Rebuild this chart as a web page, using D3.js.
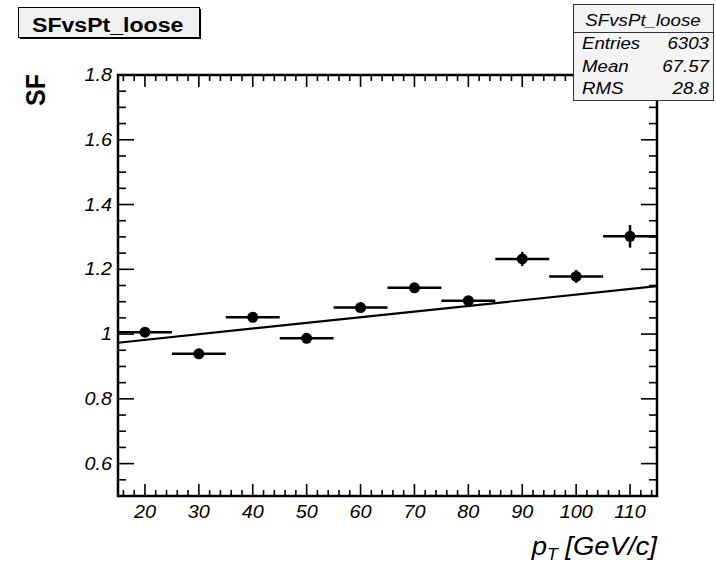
<!DOCTYPE html>
<html><head><meta charset="utf-8">
<script src="https://cdn.jsdelivr.net/npm/d3@7"></script>
<style>body{margin:0;background:#fff}svg{display:block}text{font-family:"Liberation Sans",Arial,Helvetica,sans-serif}</style>
</head><body>
<script>
// ---- data ----
const binCenters = [20, 30, 40, 50, 60, 70, 80, 90, 100, 110];
const binHalfWidth = 5;
const sfValues = [1.006, 0.939, 1.052, 0.987, 1.082, 1.143, 1.103, 1.232, 1.178, 1.302];
const sfErrors = [0.010, 0.008, 0.010, 0.008, 0.010, 0.012, 0.012, 0.022, 0.020, 0.035];
const fitParams = [0.947, 0.00175]; // p0 + p1*x
const xTicks = [20, 30, 40, 50, 60, 70, 80, 90, 100, 110];
const yTicks = [0.6, 0.8, 1.0, 1.2, 1.4, 1.6, 1.8];
const yTickLabels = ["0.6", "0.8", "1", "1.2", "1.4", "1.6", "1.8"];
const statsLabels = ["Entries", "Mean", "RMS"];
const statsValues = ["6303", "67.57", "28.8"];
const histTitle = "SFvsPt_loose";

const W = 716, H = 566;
const svg = d3.select("body").append("svg").attr("width", W).attr("height", H);
const L = 118, R = 657, T = 75, B = 496;
const x = d3.scaleLinear().domain([15, 115]).range([L, R]);
const y = d3.scaleLinear().domain([0.5, 1.8]).range([B, T]);
const SX = 1.1;

function txt(g, px, py, s, size, opts = {}) {
  return g.append("text")
    .attr("transform", `translate(${px},${py}) scale(${SX},1)`)
    .attr("font-size", size)
    .attr("font-style", opts.italic ? "italic" : "normal")
    .attr("font-weight", opts.bold ? "bold" : "normal")
    .attr("text-anchor", opts.anchor || "start")
    .attr("fill", "#000")
    .text(s);
}

// ---- axes ticks ----
const ax = svg.append("g").attr("stroke", "#000").attr("stroke-width", 1.6);
const xMinor = d3.range(16, 115, 2);
xMinor.forEach(v => {
  const major = xTicks.includes(v);
  const len = major ? 12 : 6;
  ax.append("line").attr("x1", x(v)).attr("x2", x(v)).attr("y1", B).attr("y2", B - len);
  ax.append("line").attr("x1", x(v)).attr("x2", x(v)).attr("y1", T).attr("y2", T + len);
});
const yMinor = d3.range(0, 27).map(i => +(0.5 + i * 0.05).toFixed(2)).filter(v => v <= 1.8001);
yMinor.forEach(v => {
  const major = yTicks.some(t => Math.abs(t - v) < 1e-6);
  const len = major ? 16 : 8;
  ax.append("line").attr("x1", L).attr("x2", L + len).attr("y1", y(v)).attr("y2", y(v));
  ax.append("line").attr("x1", R).attr("x2", R - len).attr("y1", y(v)).attr("y2", y(v));
});

// frame
svg.append("rect").attr("x", L).attr("y", T).attr("width", R - L).attr("height", B - T)
  .attr("fill", "none").attr("stroke", "#000").attr("stroke-width", 2.5);

// tick labels
const lab = svg.append("g");
xTicks.forEach(v => txt(lab, x(v), 518, String(v), 18, {italic: true, anchor: "middle"}));
yTicks.forEach((v, i) => txt(lab, 112, y(v) + 6, yTickLabels[i], 18, {italic: true, anchor: "end"}));

// fit line
const fitLine = d3.line().x(d => x(d)).y(d => y(fitParams[0] + fitParams[1] * d));
svg.append("path").datum([15, 115]).attr("d", fitLine)
  .attr("fill", "none").attr("stroke", "#000").attr("stroke-width", 2.2);

// data points
const pts = svg.append("g");
binCenters.forEach((c, i) => {
  pts.append("line").attr("x1", x(c - binHalfWidth)).attr("x2", x(c + binHalfWidth))
    .attr("y1", y(sfValues[i])).attr("y2", y(sfValues[i])).attr("stroke", "#000").attr("stroke-width", 2.5);
  pts.append("line").attr("x1", x(c)).attr("x2", x(c))
    .attr("y1", y(sfValues[i] - sfErrors[i])).attr("y2", y(sfValues[i] + sfErrors[i]))
    .attr("stroke", "#000").attr("stroke-width", 2.5);
  pts.append("circle").attr("cx", x(c)).attr("cy", y(sfValues[i])).attr("r", 5.5).attr("fill", "#000");
});

// axis titles
txt(svg, 0, 0, "SF", 25, {bold: true, anchor: "middle"})
  .attr("transform", "translate(45,90) rotate(-90) scale(1,1.1)");
const xt = svg.append("text")
  .attr("transform", `translate(657,555) scale(${SX},1)`)
  .attr("font-size", 25).attr("font-style", "italic").attr("text-anchor", "end");
xt.append("tspan").text("p");
xt.append("tspan").attr("font-size", 16).attr("dy", 5).text("T");
xt.append("tspan").attr("dy", -5).text(" [GeV/c]");

// title box
svg.append("rect").attr("x", 20).attr("y", 9).attr("width", 181).attr("height", 30).attr("fill", "#000");
svg.append("rect").attr("x", 18.5).attr("y", 7.5).attr("width", 181).attr("height", 30)
  .attr("fill", "#f0f0f0").attr("stroke", "#000").attr("stroke-width", 1);
txt(svg, 32, 32, histTitle, 21, {bold: true});

// stats box
svg.append("rect").attr("x", 573.5).attr("y", 4.5).attr("width", 140).attr("height", 96)
  .attr("fill", "#f4f4f4").attr("stroke", "#333").attr("stroke-width", 1);
svg.append("line").attr("x1", 573.5).attr("x2", 713.5).attr("y1", 32.5).attr("y2", 32.5)
  .attr("stroke", "#333").attr("stroke-width", 1);
txt(svg, 643, 26, histTitle, 17, {italic: true, anchor: "middle"});
statsLabels.forEach((s, i) => {
  const by = 49 + i * 22.5;
  txt(svg, 582, by, s, 17, {italic: true});
  txt(svg, 709, by, statsValues[i], 17, {italic: true, anchor: "end"});
});
</script>
</body></html>
